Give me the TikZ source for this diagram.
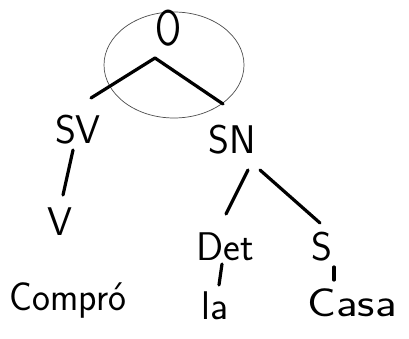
\documentclass[tikz,border=0pt]{standalone}
\begin{document}
\begin{tikzpicture}[x=1pt,y=-1pt,
  lbl/.style={font=\sffamily\fontsize{40}{40}\selectfont, inner sep=0pt},
  big/.style={font=\sffamily\fontsize{50}{50}\selectfont, inner sep=0pt},
  br/.style={line width=3.2pt, line cap=round},
  ring/.style={draw=black!70, line width=0.7pt}]
\useasboundingbox (0,0) rectangle (409,339);
% circled root
\draw[ring] (174,65) ellipse [x radius=70, y radius=53];
\node[big, xscale=0.75] (O) at (168,28) {O};
% labels
\node[lbl] (SV) at (78,130) {SV};
\node[lbl] (SN) at (232,140) {SN};
\node[lbl] (V) at (60,222) {V};
\node[lbl] (Det) at (225,247) {Det};
\node[lbl] (S) at (322,247) {S};
\node[lbl, xscale=0.95] (Compro) at (68,300) {Compró};
\node[lbl] (la) at (215,306) {la};
\node[lbl, xscale=1.2] (Casa) at (352,303) {Casa};
% branch ends
\coordinate (root) at (155,58);
\coordinate (sva) at (91,98);
\coordinate (sna) at (223,104);
\coordinate (svb) at (73,150);
\coordinate (vb) at (63,195);
\coordinate (snb) at (248,170);
\coordinate (detb) at (226,214);
\coordinate (snc) at (260,170);
\coordinate (sb) at (320,223);
\coordinate (detc) at (222,264);
\coordinate (lab) at (219,285);
\coordinate (sc) at (334,267);
\coordinate (casab) at (334,280);
% branches
\draw[br] (root) -- (sva);
\draw[br] (root) -- (sna);
\draw[br] (svb) -- (vb);
\draw[br] (snb) -- (detb);
\draw[br] (snc) -- (sb);
\draw[br] (detc) -- (lab);
\draw[br] (sc) -- (casab);
\end{tikzpicture}
\end{document}
